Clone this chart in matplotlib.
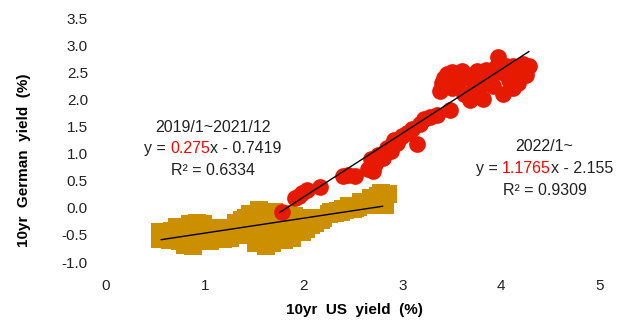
import matplotlib
matplotlib.use("Agg")
import matplotlib.pyplot as plt

plt.rcParams['font.family'] = ['Liberation Sans', 'DejaVu Sans']
plt.rcParams['axes.unicode_minus'] = False

# 2019/1~2021/12  (US 10yr, German 10yr)
gold_x = [2.85, 2.82, 2.80, 2.78, 2.75, 2.75, 2.72, 2.70, 2.68, 2.65, 2.62, 2.60, 2.58,
          2.55, 2.52, 2.50, 2.46, 2.42, 2.40, 2.38, 2.35, 2.32, 2.28, 2.26,
          2.20, 2.18, 2.15, 2.12, 2.10, 2.07, 2.05, 2.02, 2.00, 1.98, 1.96,
          1.93, 1.90, 1.88, 1.85, 1.82, 1.80, 1.78, 1.75, 1.72,
          1.70, 1.68, 1.65, 1.62, 1.60, 1.57, 1.55, 1.52, 1.50,
          1.46, 1.44, 1.42, 1.40, 1.38, 1.35, 1.32, 1.30,
          1.28, 1.25, 1.22, 1.18, 1.15, 1.12, 1.10,
          1.07, 1.05, 1.02,
          0.98, 0.95, 0.92, 0.90, 0.88, 0.85, 0.82, 0.80, 0.78, 0.75, 0.72,
          0.70, 0.67, 0.65, 0.62, 0.60, 0.57, 0.55, 0.55]
gold_y = [0.25, 0.05, 0.20, 0.28, 0.22, 0.05, 0.15, 0.12, 0.18, 0.10, 0.08, 0.05, 0.10,
          0.02, 0.00, -0.02, 0.03, -0.05, -0.03, -0.08, -0.06, -0.10, -0.08, -0.12,
          -0.18, -0.22, -0.20, -0.28, -0.22, -0.32, -0.18, -0.40, -0.25, -0.45, -0.18,
          -0.30, -0.15, -0.55, -0.25, -0.12, -0.60, -0.35, -0.20, -0.50,
          -0.08, -0.65, -0.15, -0.70, -0.10, -0.45, -0.05, -0.65, -0.30,
          -0.12, -0.50, -0.18, -0.35, -0.22, -0.50, -0.28, -0.45,
          -0.38, -0.55, -0.40, -0.58, -0.45, -0.38, -0.55,
          -0.50, -0.62, -0.55,
          -0.30, -0.60, -0.28, -0.45, -0.70, -0.30, -0.55, -0.68, -0.40, -0.62, -0.35,
          -0.55, -0.42, -0.60, -0.45, -0.55, -0.48, -0.58, -0.45]

# 2022/1~
red_x = [1.78, 1.91, 1.95, 1.98, 2.03, 2.17, 2.40, 2.45, 2.52, 2.65, 2.68, 2.70,
         2.72, 2.75, 2.80, 2.84, 2.88, 2.92, 2.95, 3.00, 3.05, 3.10, 3.15, 3.18,
         3.22, 3.28, 3.35, 3.48, 3.38, 3.40, 3.42, 3.45, 3.50, 3.55, 3.58, 3.60,
         3.62, 3.68, 3.70, 3.72, 3.75, 3.78, 3.82, 3.85, 3.88, 3.92, 3.95, 3.97,
         4.00, 4.02, 4.05, 4.08, 4.12, 4.12, 4.17, 4.20, 4.25, 4.28, 4.22, 3.50]
red_y = [-0.07, 0.18, 0.22, 0.27, 0.32, 0.39, 0.58, 0.60, 0.58, 0.72, 0.90, 0.68,
         0.80, 0.98, 0.92, 1.10, 1.05, 1.25, 1.20, 1.32, 1.38, 1.45, 1.17, 1.55,
         1.63, 1.68, 1.72, 1.80, 2.15, 2.30, 2.40, 2.46, 2.50, 2.45, 2.35, 2.52,
         2.10, 1.98, 2.45, 2.30, 2.52, 2.20, 2.00, 2.55, 2.35, 2.25, 2.60, 2.78,
         2.50, 2.10, 2.62, 2.35, 2.20, 2.62, 2.30, 2.50, 2.45, 2.62, 2.65, 2.20]

# trend lines: slope, intercept, x range
fit_slope = [0.275, 1.1765]
fit_icept = [-0.7419, -2.155]
fit_xmin = [0.56, 1.76]
fit_xmax = [2.80, 4.28]

xticks = [0, 1, 2, 3, 4, 5]
yticks = [-1.0, -0.5, 0.0, 0.5, 1.0, 1.5, 2.0, 2.5, 3.0, 3.5]

W, H = 619, 320
fig = plt.figure(figsize=(W / 100, H / 100), dpi=100)
ax = fig.add_axes([106 / W, 58 / H, 494 / W, 244 / H])
ax.set_xlim(0, 5)
ax.set_ylim(-1.0, 3.5)

ax.scatter(gold_x, gold_y, marker='s', s=150, color='#CC8F00', linewidths=0,
           clip_on=False, zorder=2)
ax.scatter(red_x, red_y, marker='o', s=145, color='#E51A00', linewidths=0,
           clip_on=False, zorder=3)
for a, b, x0, x1 in zip(fit_slope, fit_icept, fit_xmin, fit_xmax):
    ax.plot([x0, x1], [a * x0 + b, a * x1 + b], color='black', lw=1, zorder=4)

for sp in ax.spines.values():
    sp.set_visible(False)
ax.set_xticks(xticks)
ax.set_xticklabels([str(v) for v in xticks])
ax.set_yticks(yticks)
ax.set_yticklabels(['%.1f' % v for v in yticks])
ax.tick_params(length=0, labelsize=11, labelcolor='#222222')
ax.tick_params(axis='y', pad=13)
ax.tick_params(axis='x', pad=12)

fig.text(354 / W, 1 - 310 / H, '10yr  US  yield  (%)', fontsize=11, fontweight='bold',
         ha='center', va='center')
fig.text(24 / W, 1 - 160 / H, '10yr  German  yield  (%)', fontsize=11, fontweight='bold',
         ha='center', va='center', rotation=90)

fig.canvas.draw()
renderer = fig.canvas.get_renderer()


def width(s, fs):
    t = fig.text(0, 0, s + '|', fontsize=fs)
    w = t.get_window_extent(renderer).width
    t.remove()
    return w


def rich_line(xd, yd, parts, fs=11.5):
    # parts drawn one after another, whole line centred at data point
    px, py = ax.transData.transform((xd, yd))
    bar = width('', fs)
    full = ''.join(s for s, c in parts)
    x = px - (width(full, fs) - bar) / 2
    prefix = ''
    for s, c in parts:
        off = width(prefix, fs) - bar if prefix else 0
        fig.text((x + off) / W, py / H, s, color=c, fontsize=fs, ha='left', va='center')
        prefix += s


k = '#222222'
rich_line(1.08, 1.48, [('2019/1~2021/12', k)])
rich_line(1.08, 1.09, [('y = ', k), ('0.275', 'red'), ('x - 0.7419', k)])
rich_line(1.08, 0.69, [('R² = 0.6334', k)])
rich_line(4.44, 1.13, [('2022/1~', k)])
rich_line(4.44, 0.72, [('y = ', k), ('1.1765', 'red'), ('x - 2.155', k)])
rich_line(4.44, 0.31, [('R² = 0.9309', k)])

fig.savefig('out.png', dpi=100)
